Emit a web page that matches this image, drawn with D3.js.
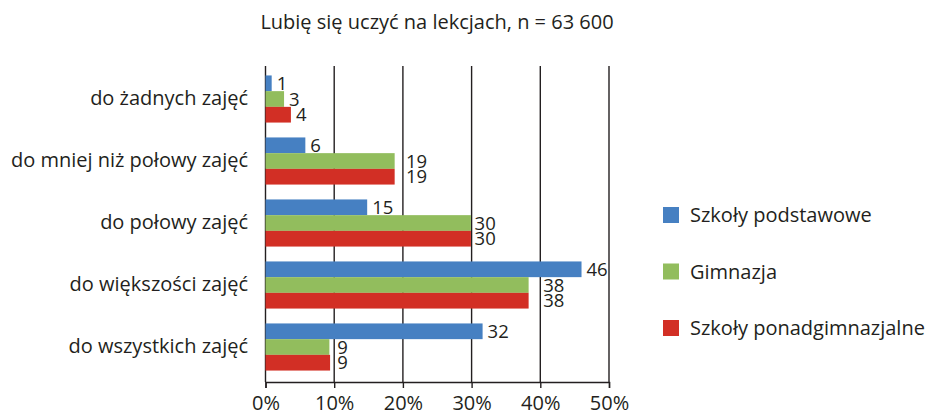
<!DOCTYPE html>
<html>
<head>
<meta charset="utf-8">
<script src="https://cdn.jsdelivr.net/npm/d3@7"></script>
<style>
    html, body { margin: 0; padding: 0; background: #fff; }
    #chart text { font-family: 'Open Sans', sans-serif; fill: #231f20; }
</style>
</head>
<body>
<div id="chart"></div>
<script>
// data
const title = 'Lubię się uczyć na lekcjach, n = 63 600';
const categories = ['do żadnych zajęć', 'do mniej niż połowy zajęć', 'do połowy zajęć', 'do większości zajęć', 'do wszystkich zajęć'];
const seriesNames = ['Szkoły podstawowe', 'Gimnazja', 'Szkoły ponadgimnazjalne'];
const podstawowe = [0.9, 5.8, 14.8, 46.0, 31.6];
const gimnazja = [2.7, 18.8, 29.9, 38.3, 9.3];
const ponadgimnazjalne = [3.7, 18.8, 29.9, 38.3, 9.4];
const xTicks = [0, 10, 20, 30, 40, 50];
const colors = ['#4680c2', '#92bd5d', '#d22f25'];

const seriesValues = [podstawowe, gimnazja, ponadgimnazjalne];

const width = 928;
const height = 416;
const margin = { left: 265.5, right: 319, top: 66, bottom: 34 };
const fontSize = '20px';

const svg = d3.select('#chart')
    .append('svg')
    .attr('width', width)
    .attr('height', height);

const xScale = d3.scaleLinear()
    .domain([0, 50])
    .range([margin.left, width - margin.right]);

const yScale = d3.scaleBand()
    .domain(categories)
    .range([margin.top + 2, height - margin.bottom - 4])
    .paddingInner(0.24)
    .paddingOuter(0.12);

const ySeries = d3.scaleBand()
    .domain(seriesNames)
    .range([0, yScale.bandwidth()]);

const axisY = height - margin.bottom;

// title
svg.append('text')
    .attr('x', 437)
    .attr('y', 29)
    .attr('text-anchor', 'middle')
    .style('font-size', fontSize)
    .text(title);

// grid
svg.append('g')
    .attr('class', 'grid')
    .selectAll('line')
    .data(xTicks)
    .join('line')
    .attr('x1', d => xScale(d))
    .attr('x2', d => xScale(d))
    .attr('y1', margin.top)
    .attr('y2', axisY)
    .attr('stroke', '#231f20')
    .attr('stroke-width', 1.4);

// x axis
const xAxis = svg.append('g')
    .attr('transform', `translate(0,${axisY})`)
    .call(d3.axisBottom(xScale).tickValues(xTicks).tickSize(6).tickPadding(8).tickFormat(d => d + '%'));

xAxis.select('.domain').attr('stroke', '#231f20').attr('stroke-width', 1.4);
xAxis.selectAll('.tick line').attr('stroke', '#231f20').attr('stroke-width', 1.4);
xAxis.selectAll('text')
    .style('font-size', fontSize)
    .style('font-family', "'Open Sans', sans-serif")
    .attr('fill', '#231f20');

// category labels
svg.append('g')
    .selectAll('text')
    .data(categories)
    .join('text')
    .attr('x', 248)
    .attr('y', d => yScale(d) + yScale.bandwidth() / 2 - 1)
    .attr('dy', '0.35em')
    .attr('text-anchor', 'end')
    .style('font-size', fontSize)
    .text(d => d);

// label x: keep clear of the gridlines
function labelX(v) {
    const end = xScale(v);
    const hit = xTicks.map(t => xScale(t)).find(g => g >= end - 1 && g < end + 12);
    return hit !== undefined ? hit + 3 : end + 5;
}

// bars
seriesValues.forEach((values, s) => {
    const name = seriesNames[s];
    const g = svg.append('g').attr('class', 'series');

    g.selectAll('rect')
        .data(values)
        .join('rect')
        .attr('x', xScale(0))
        .attr('y', (d, i) => yScale(categories[i]) + ySeries(name))
        .attr('width', d => xScale(d) - xScale(0))
        .attr('height', ySeries.bandwidth())
        .attr('fill', colors[s]);

    g.selectAll('text')
        .data(values)
        .join('text')
        .attr('x', d => labelX(d))
        .attr('y', (d, i) => yScale(categories[i]) + ySeries(name) + ySeries.bandwidth() / 2)
        .attr('dy', '0.36em')
        .style('font-size', '18.5px')
        .text(d => Math.round(d));
});

// legend
const legend = svg.append('g')
    .attr('class', 'legend')
    .attr('transform', 'translate(663, 215)');

seriesNames.forEach((name, i) => {
    const item = legend.append('g')
        .attr('transform', `translate(0, ${i * 56.5})`);

    item.append('rect')
        .attr('x', 0)
        .attr('y', -8)
        .attr('width', 16)
        .attr('height', 16)
        .attr('fill', colors[i]);

    item.append('text')
        .attr('x', 27)
        .attr('y', 0)
        .attr('dy', '0.35em')
        .style('font-size', fontSize)
        .text(name);
});
</script>
</body>
</html>
